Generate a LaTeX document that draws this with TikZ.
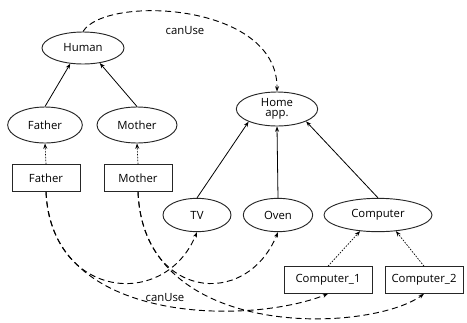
\documentclass[tikz,border=0pt]{standalone}
\usepackage{fontspec}
\setmainfont{Open Sans}
\usetikzlibrary{shapes.geometric,arrows.meta}
\begin{document}
\begin{tikzpicture}[x=0.75pt,y=-0.75pt,
  font=\fontsize{8.5}{9.5}\selectfont,
  cls/.style={draw=black!85,line width=0.7pt,ellipse,inner sep=0pt,align=center},
  inst/.style={draw=black!85,line width=0.7pt,rectangle,inner sep=0pt,minimum height=20pt},
  isa/.style={line width=0.6pt,-{Stealth[length=4pt,width=3pt]}},
  typ/.style={line width=0.5pt,dash pattern=on 1.2pt off 1pt,-{Stealth[length=4pt,width=3pt]}},
  use/.style={line width=0.7pt,dash pattern=on 4.5pt off 2.8pt,-{Stealth[length=4pt,width=3pt]}}]
\useasboundingbox (0,0) rectangle (467,322);
% classes
\node[cls,minimum width=61.5pt,minimum height=24pt] (human) at (83,48) {Human};
\node[cls,minimum width=56pt,minimum height=27pt] (fatherc) at (45,125) {Father};
\node[cls,minimum width=60pt,minimum height=27pt] (motherc) at (137,125) {Mother};
\node[cls,minimum width=61pt,minimum height=25.5pt] (home) at (277,109) {Home\\[-2pt]app.};
\node[cls,minimum width=51pt,minimum height=25pt] (tv) at (197,215) {TV};
\node[cls,minimum width=52pt,minimum height=25pt] (oven) at (278,215) {Oven};
\node[cls,minimum width=81pt,minimum height=25pt] (computer) at (378,215) {Computer};
% instances
\node[inst,minimum width=51pt] (fatheri) at (46,178) {Father};
\node[inst,minimum width=51pt] (motheri) at (138,178) {Mother};
\node[inst,minimum width=66pt] (comp1) at (328,280) {Computer\_1};
\node[inst,minimum width=58.5pt] (comp2) at (424,280) {Computer\_2};
% labels
\node (lbl1) at (185,31) {canUse};
\node (lbl2) at (165,298) {canUse};
% subclass links
\draw[isa] (fatherc.north) -- (human.-129);
\draw[isa] (motherc.north) -- (human.-42);
\draw[isa] (tv.north) -- (home.-156);
\draw[isa] (oven.north) -- (home.south);
\draw[isa] (computer.north) -- (home.-23);
% instance links
\draw[typ] (fatheri.north) -- (fatherc.south);
\draw[typ] (motheri.north) -- (motherc.south);
\draw[typ] (comp1.north) -- (computer.-138);
\draw[typ] (comp2.north) -- (computer.-42);
% canUse links
\draw[use] (human.north) .. controls (105,-5) and (278,2) .. (home.north);
\draw[use] (fatheri.south) .. controls (52,300) and (165,310) .. (tv.south);
\draw[use] (fatheri.south) .. controls (50,325) and (250,325) .. (comp1.south);
\draw[use] (motheri.south) .. controls (143,300) and (246,310) .. (oven.south);
\draw[use] (motheri.south) .. controls (143,342) and (370,333) .. (comp2.south);
\end{tikzpicture}
\end{document}
